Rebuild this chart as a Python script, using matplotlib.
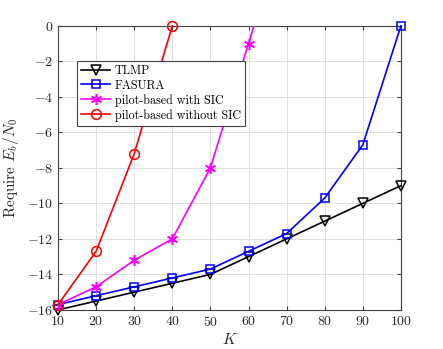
import matplotlib.pyplot as plt

plt.rcParams['font.family'] = 'serif'
plt.rcParams['font.serif'] = ['cmr10', 'DejaVu Serif']
plt.rcParams['mathtext.fontset'] = 'cm'
plt.rcParams['axes.unicode_minus'] = False
plt.rcParams['axes.formatter.use_mathtext'] = True

# data
K = [10, 20, 30, 40, 50, 60, 70, 80, 90, 100]
tlmp = [-16, -15.5, -15, -14.5, -14, -13, -12, -11, -10, -9]
fasura = [-15.7, -15.2, -14.7, -14.2, -13.7, -12.7, -11.7, -9.7, -6.7, 0]
K_sic = [10, 20, 30, 40, 50, 60, 70]
pilot_sic = [-15.7, -14.7, -13.2, -12, -8, -1, 6]
K_nosic = [10, 20, 30, 40]
pilot_nosic = [-15.7, -12.7, -7.2, 0]

fig = plt.figure(figsize=(4.43, 3.49), dpi=100)
ax = fig.add_axes([0.131, 0.112, 0.774, 0.814])

ax.plot(K, tlmp, '-v', color='black', lw=1.2, ms=7, mfc='none', mew=1.1,
        label='TLMP', clip_on=False, zorder=3)
ax.plot(K, fasura, '-s', color='blue', lw=1.2, ms=6, mfc='none', mew=1.1,
        label='FASURA', clip_on=False, zorder=3)
ax.plot(K_sic, pilot_sic, '-', marker=(6, 2, 0), color='magenta', lw=1.2, ms=8,
        mew=1.1, label='pilot-based with SIC', zorder=3)
ax.plot(K_nosic, pilot_nosic, '-o', color='red', lw=1.2, ms=7, mfc='none', mew=1.1,
        label='pilot-based without SIC', clip_on=False, zorder=3)

ax.set_xlim(10, 100)
ax.set_ylim(-16, 0)
ax.set_xticks(K)
ax.set_yticks(range(-16, 1, 2))
ax.tick_params(direction='in', top=True, right=True, labelsize=10, length=3,
               color='#404040', labelcolor='#262626')
ax.grid(True, color='#e0e0e0', lw=0.7)
ax.set_axisbelow(True)
for s in ax.spines.values():
    s.set_color('#404040')
    s.set_linewidth(0.8)

ax.set_xlabel('$K$', fontsize=11, color='#262626', labelpad=2)
ax.set_ylabel('Require $E_b/N_0$', fontsize=11, color='#262626', labelpad=4)

leg = ax.legend(loc='upper left', bbox_to_anchor=(0.055, 0.877), fontsize=8.7,
                fancybox=False, edgecolor='#404040', framealpha=1,
                borderpad=0.35, labelspacing=0.2, handlelength=2.4,
                handletextpad=0.4, borderaxespad=0)
leg.get_frame().set_linewidth(0.8)

fig.savefig('out.png', dpi=100)
